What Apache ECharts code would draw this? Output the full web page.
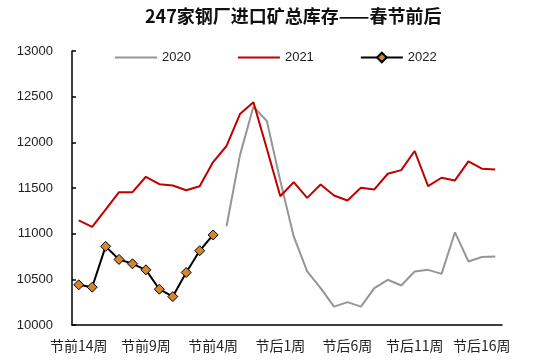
<!DOCTYPE html>
<html><head><meta charset="utf-8">
<script src="https://cdn.jsdelivr.net/npm/echarts@6/dist/echarts.min.js"></script>
<style>html,body{margin:0;padding:0;background:#fff}#c{width:550px;height:364px}</style>
</head><body><div id="c"></div>
<script>
var categories = ['节前14周','节前13周','节前12周','节前11周','节前10周','节前9周','节前8周','节前7周','节前6周','节前5周','节前4周','节前3周','节前2周','节前1周','春节',
'节后1周','节后2周','节后3周','节后4周','节后5周','节后6周','节后7周','节后8周','节后9周','节后10周','节后11周','节后12周','节后13周','节后14周','节后15周','节后16周','节后17周'];
var values2020 = [null,null,null,null,null,null,null,null,null,null,null,
11081,11860,12390,12234,11580,10970,10586,10403,10201,10250,10201,10403,10495,10432,10586,10604,10560,11015,10696,10744,10751];
var values2021 = [11146,11074,11264,11454,11454,11623,11542,11528,11476,11520,11784,11960,12310,12440,11930,11410,11564,11392,11539,11418,11363,11502,11484,11656,11696,11905,11520,11612,11583,11791,11711,11703];
var values2022 = [10440,10414,10861,10718,10670,10604,10392,10311,10575,10813,10986];
var seriesNames = ['2020','2021','2022'];
var yTicks = {min:10000, max:13000, interval:500};

var chart = echarts.init(document.getElementById('c'), null, {renderer:'canvas'});
chart.setOption({
  animation:false,
  backgroundColor:'#fff',
  title:{text:'247家钢厂进口矿总库存——春节前后', left:145, top:7, padding:0,
    textStyle:{fontFamily:'Noto Sans CJK SC', fontWeight:'bold', fontSize:18, color:'#111'}},
  legend:{data:seriesNames, left:114, top:51, padding:0, itemGap:46, itemWidth:42, itemHeight:12,
    textStyle:{fontFamily:'Liberation Sans, Arial', fontSize:13, color:'#222'}},
  grid:{left:72, right:48, top:51, bottom:39},
  xAxis:{type:'category', data:categories, boundaryGap:true,
    axisLine:{lineStyle:{color:'#000', width:1.5}},
    axisTick:{inside:true, length:4, interval:3, lineStyle:{color:'#000', width:1.5}},
    axisLabel:{interval:4, margin:14, fontFamily:'Noto Sans CJK SC', fontSize:14, color:'#222'},
    splitLine:{show:false}},
  yAxis:{type:'value', min:yTicks.min, max:yTicks.max, interval:yTicks.interval,
    axisLine:{show:true, lineStyle:{color:'#000', width:1.5}},
    axisTick:{show:true, inside:true, length:4, lineStyle:{color:'#000', width:1.5}},
    axisLabel:{margin:19, fontFamily:'Liberation Sans, Arial', fontSize:13, color:'#222',
      formatter:function(v){return String(v);}},
    splitLine:{show:false}},
  series:[
    {name:seriesNames[0], type:'line', data:values2020, symbol:'line', showSymbol:false, lineStyle:{color:'#969696', width:2}, itemStyle:{color:'#969696'}},
    {name:seriesNames[1], type:'line', data:values2021, symbol:'line', showSymbol:false, lineStyle:{color:'#C00000', width:2}, itemStyle:{color:'#C00000'}},
    {name:seriesNames[2], type:'line', data:values2022, symbol:'diamond', symbolSize:10, showAllSymbol:true,
      lineStyle:{color:'#000', width:2}, itemStyle:{color:'#D4862E', borderColor:'#000', borderWidth:1}}
  ]
});
</script></body></html>
